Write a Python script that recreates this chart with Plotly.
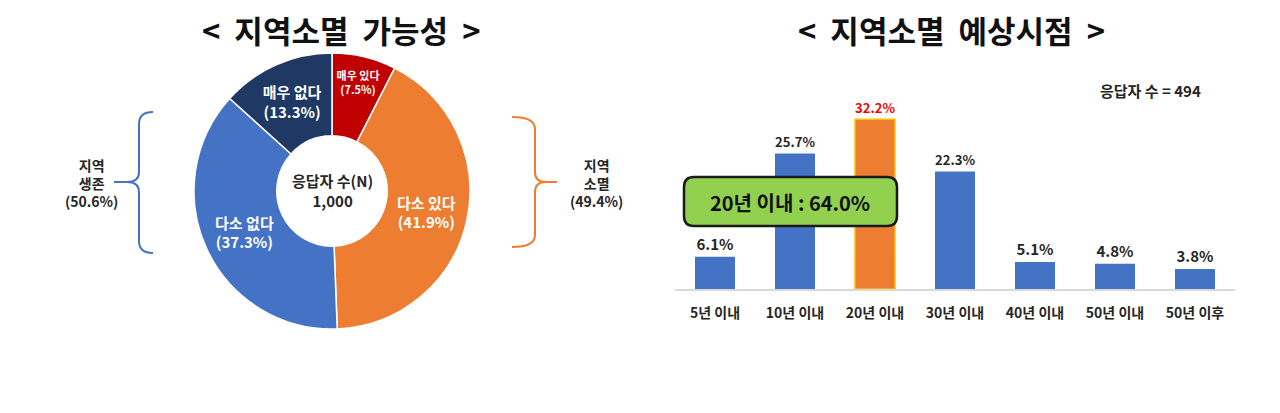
import plotly.graph_objects as go

W, H = 1280, 413

# ---- data ----
pie_labels = ["매우 있다", "다소 있다", "다소 없다", "매우 없다"]
pie_values = [7.5, 41.9, 37.3, 13.3]
pie_colors = ["#C00000", "#ED7D31", "#4472C4", "#1F3864"]
respondents_pie = "1,000"

bar_cats = ["5년 이내", "10년 이내", "20년 이내", "30년 이내", "40년 이내", "50년 이내", "50년 이후"]
bar_values = [6.1, 25.7, 32.2, 22.3, 5.1, 4.8, 3.8]
highlight_cat = "20년 이내"
respondents_bar = 494
within20_share = 64.0

FONT = "Noto Sans CJK KR"


def px(x, y):
    return x / W, 1 - y / H


def path(cmds):
    out = []
    for c in cmds:
        op = c[0]
        pts = c[1:]
        coords = []
        for i in range(0, len(pts), 2):
            X, Y = px(pts[i], pts[i + 1])
            coords.append(f"{X:.5f},{Y:.5f}")
        out.append(op + " " + " ".join(coords))
    return " ".join(out)


fig = go.Figure()

# donut
cx, cy, r = 332, 191, 138
x0, y1 = px(cx - r, cy - r)
x1, y0 = px(cx + r, cy + r)
fig.add_trace(go.Pie(
    labels=pie_labels, values=pie_values, sort=False, direction="clockwise", rotation=0,
    hole=0.40, domain=dict(x=[x0, x1], y=[y0, y1]),
    marker=dict(colors=pie_colors, line=dict(color="white", width=1.5)),
    texttemplate="<b>%{label}<br>(%{value:.1f}%)</b>", textposition="inside",
    insidetextorientation="horizontal",
    textfont=dict(family=FONT, size=15, color="white"),
    showlegend=False, hoverinfo="label+value",
))

# bars
bar_colors = ["#ED7D31" if c == highlight_cat else "#4472C4" for c in bar_cats]
line_colors = ["#FFC000" if c == highlight_cat else "rgba(0,0,0,0)" for c in bar_cats]
txt_colors = ["#FF0000" if c == highlight_cat else "#262626" for c in bar_cats]
fig.add_trace(go.Bar(
    x=bar_cats, y=bar_values, xaxis="x", yaxis="y",
    marker=dict(color=bar_colors, line=dict(color=line_colors, width=1.5)),
    text=[f"<b>{v:.1f}%</b>" for v in bar_values], textposition="outside",
    textfont=dict(family=FONT, size=15, color=txt_colors),
    cliponaxis=False, showlegend=False, width=0.5,
))

base_y = 289
top_val = 40
top_px = base_y - top_val * 5.27
fig.update_layout(
    width=W, height=H, margin=dict(l=0, r=0, t=0, b=0),
    paper_bgcolor="white", plot_bgcolor="white",
    font=dict(family=FONT, color="#262626"),
    xaxis=dict(domain=[675 / W, 1235 / W], showgrid=False, showline=True,
               linecolor="#D9D9D9", linewidth=2, ticks="", range=[-0.5, 6.5],
               tickmode="array", tickvals=bar_cats, ticktext=[f"<b>{c}</b>" for c in bar_cats],
               ticklabelstandoff=10,
               tickfont=dict(family=FONT, size=14, color="#262626"), fixedrange=True),
    yaxis=dict(domain=[1 - base_y / H, 1 - top_px / H], range=[0, top_val], visible=False),
)

ann = []


def add_text(x, y, text, size, color="#262626"):
    tx, ty = px(x, y)
    ann.append(dict(x=tx, y=ty, xref="paper", yref="paper", text=text, showarrow=False,
                    xanchor="center", yanchor="middle",
                    font=dict(family=FONT, size=size, color=color)))


# titles
add_text(341, 30, "<b>&lt;&nbsp;&nbsp;지역소멸&nbsp;&nbsp;가능성&nbsp;&nbsp;&gt;</b>", 31, "#111111")
add_text(951, 30, "<b>&lt;&nbsp;&nbsp;지역소멸&nbsp;&nbsp;예상시점&nbsp;&nbsp;&gt;</b>", 31, "#111111")
# donut center
add_text(cx, 190, f"<b>응답자 수(N)<br>{respondents_pie}</b>", 15)
# side labels
s1 = pie_values[2] + pie_values[3]
s2 = pie_values[0] + pie_values[1]
add_text(91, 183, f"<b>지역<br>생존<br>({s1:.1f}%)</b>", 14)
add_text(596, 183, f"<b>지역<br>소멸<br>({s2:.1f}%)</b>", 14)
# respondents bar
add_text(1150, 91, f"<b>응답자 수 = {respondents_bar}</b>", 15)
# green box text
add_text(790, 202, f"<b>20년 이내 : {within20_share:.1f}%</b>", 20, "#111111")

shapes = []
# rounded green box
bx0, by0, bx1, by1, rr = 684, 177, 897, 226, 10
shapes.append(dict(type="path", xref="paper", yref="paper",
                   path=path([("M", bx0 + rr, by0), ("L", bx1 - rr, by0), ("Q", bx1, by0, bx1, by0 + rr),
                              ("L", bx1, by1 - rr), ("Q", bx1, by1, bx1 - rr, by1),
                              ("L", bx0 + rr, by1), ("Q", bx0, by1, bx0, by1 - rr),
                              ("L", bx0, by0 + rr), ("Q", bx0, by0, bx0 + rr, by0), ("Z",)]),
                   fillcolor="#92D050", line=dict(color="#1A1A1A", width=2.5)))
# left brace
shapes.append(dict(type="path", xref="paper", yref="paper",
                   path=path([("M", 153, 112), ("Q", 139, 112, 139, 124), ("L", 139, 172),
                              ("Q", 139, 182, 127, 182), ("L", 114, 182),
                              ("M", 127, 182), ("Q", 139, 182, 139, 192), ("L", 139, 241),
                              ("Q", 139, 253, 153, 253)]),
                   line=dict(color="#4472C4", width=2)))
# right brace
shapes.append(dict(type="path", xref="paper", yref="paper",
                   path=path([("M", 512, 117), ("Q", 535, 117, 535, 129), ("L", 535, 172),
                              ("Q", 535, 182, 546, 182), ("L", 557, 182),
                              ("M", 546, 182), ("Q", 535, 182, 535, 192), ("L", 535, 235),
                              ("Q", 535, 247, 512, 247)]),
                   line=dict(color="#ED7D31", width=2)))

fig.update_layout(annotations=ann, shapes=shapes)
fig.write_html("out.html")
